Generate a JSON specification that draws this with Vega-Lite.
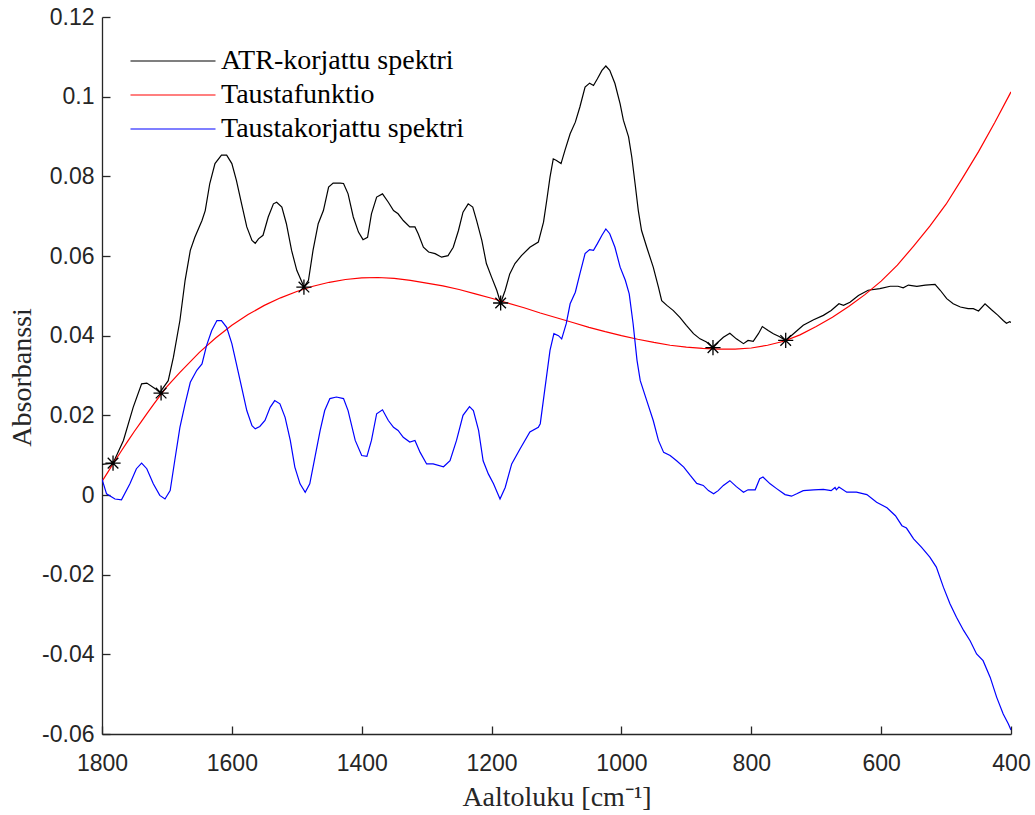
{
  "$schema": "https://vega.github.io/schema/vega-lite/v6.json",
  "width": 909,
  "height": 717,
  "autosize": {"type": "none"},
  "padding": {"left": 102, "top": 17, "right": 24, "bottom": 81},
  "background": "#ffffff",
  "config": {
    "view": {"stroke": null},
    "font": "Liberation Sans"
  },
  "datasets": {
    "spektrit": [
      {"sarja": "ATR-korjattu spektri", "aaltoluku": 1800, "absorbanssi": 0.0077}, {"sarja": "ATR-korjattu spektri", "aaltoluku": 1783, "absorbanssi": 0.0080}, {"sarja": "ATR-korjattu spektri", "aaltoluku": 1767, "absorbanssi": 0.0137},
      {"sarja": "ATR-korjattu spektri", "aaltoluku": 1752, "absorbanssi": 0.0220}, {"sarja": "ATR-korjattu spektri", "aaltoluku": 1739, "absorbanssi": 0.0279}, {"sarja": "ATR-korjattu spektri", "aaltoluku": 1731, "absorbanssi": 0.0281},
      {"sarja": "ATR-korjattu spektri", "aaltoluku": 1718, "absorbanssi": 0.0267}, {"sarja": "ATR-korjattu spektri", "aaltoluku": 1711, "absorbanssi": 0.0257}, {"sarja": "ATR-korjattu spektri", "aaltoluku": 1698, "absorbanssi": 0.0287},
      {"sarja": "ATR-korjattu spektri", "aaltoluku": 1690, "absorbanssi": 0.0346}, {"sarja": "ATR-korjattu spektri", "aaltoluku": 1680, "absorbanssi": 0.0438}, {"sarja": "ATR-korjattu spektri", "aaltoluku": 1672, "absorbanssi": 0.0539},
      {"sarja": "ATR-korjattu spektri", "aaltoluku": 1664, "absorbanssi": 0.0614}, {"sarja": "ATR-korjattu spektri", "aaltoluku": 1657, "absorbanssi": 0.0647}, {"sarja": "ATR-korjattu spektri", "aaltoluku": 1646, "absorbanssi": 0.0689},
      {"sarja": "ATR-korjattu spektri", "aaltoluku": 1641, "absorbanssi": 0.0714}, {"sarja": "ATR-korjattu spektri", "aaltoluku": 1634, "absorbanssi": 0.0782}, {"sarja": "ATR-korjattu spektri", "aaltoluku": 1626, "absorbanssi": 0.0832},
      {"sarja": "ATR-korjattu spektri", "aaltoluku": 1616, "absorbanssi": 0.0853}, {"sarja": "ATR-korjattu spektri", "aaltoluku": 1608, "absorbanssi": 0.0853}, {"sarja": "ATR-korjattu spektri", "aaltoluku": 1600, "absorbanssi": 0.0832},
      {"sarja": "ATR-korjattu spektri", "aaltoluku": 1593, "absorbanssi": 0.0790}, {"sarja": "ATR-korjattu spektri", "aaltoluku": 1585, "absorbanssi": 0.0731}, {"sarja": "ATR-korjattu spektri", "aaltoluku": 1577, "absorbanssi": 0.0673},
      {"sarja": "ATR-korjattu spektri", "aaltoluku": 1569, "absorbanssi": 0.0639}, {"sarja": "ATR-korjattu spektri", "aaltoluku": 1564, "absorbanssi": 0.0632}, {"sarja": "ATR-korjattu spektri", "aaltoluku": 1559, "absorbanssi": 0.0643},
      {"sarja": "ATR-korjattu spektri", "aaltoluku": 1552, "absorbanssi": 0.0652}, {"sarja": "ATR-korjattu spektri", "aaltoluku": 1544, "absorbanssi": 0.0698}, {"sarja": "ATR-korjattu spektri", "aaltoluku": 1536, "absorbanssi": 0.0731},
      {"sarja": "ATR-korjattu spektri", "aaltoluku": 1531, "absorbanssi": 0.0735}, {"sarja": "ATR-korjattu spektri", "aaltoluku": 1523, "absorbanssi": 0.0723}, {"sarja": "ATR-korjattu spektri", "aaltoluku": 1516, "absorbanssi": 0.0681},
      {"sarja": "ATR-korjattu spektri", "aaltoluku": 1508, "absorbanssi": 0.0614}, {"sarja": "ATR-korjattu spektri", "aaltoluku": 1500, "absorbanssi": 0.0564}, {"sarja": "ATR-korjattu spektri", "aaltoluku": 1492, "absorbanssi": 0.0534},
      {"sarja": "ATR-korjattu spektri", "aaltoluku": 1489, "absorbanssi": 0.0522}, {"sarja": "ATR-korjattu spektri", "aaltoluku": 1482, "absorbanssi": 0.0539}, {"sarja": "ATR-korjattu spektri", "aaltoluku": 1475, "absorbanssi": 0.0614},
      {"sarja": "ATR-korjattu spektri", "aaltoluku": 1467, "absorbanssi": 0.0681}, {"sarja": "ATR-korjattu spektri", "aaltoluku": 1459, "absorbanssi": 0.0714}, {"sarja": "ATR-korjattu spektri", "aaltoluku": 1451, "absorbanssi": 0.0773},
      {"sarja": "ATR-korjattu spektri", "aaltoluku": 1444, "absorbanssi": 0.0783}, {"sarja": "ATR-korjattu spektri", "aaltoluku": 1433, "absorbanssi": 0.0783}, {"sarja": "ATR-korjattu spektri", "aaltoluku": 1428, "absorbanssi": 0.0782},
      {"sarja": "ATR-korjattu spektri", "aaltoluku": 1421, "absorbanssi": 0.0756}, {"sarja": "ATR-korjattu spektri", "aaltoluku": 1413, "absorbanssi": 0.0698}, {"sarja": "ATR-korjattu spektri", "aaltoluku": 1405, "absorbanssi": 0.0660},
      {"sarja": "ATR-korjattu spektri", "aaltoluku": 1398, "absorbanssi": 0.0641}, {"sarja": "ATR-korjattu spektri", "aaltoluku": 1391, "absorbanssi": 0.0647}, {"sarja": "ATR-korjattu spektri", "aaltoluku": 1385, "absorbanssi": 0.0706},
      {"sarja": "ATR-korjattu spektri", "aaltoluku": 1377, "absorbanssi": 0.0748}, {"sarja": "ATR-korjattu spektri", "aaltoluku": 1368, "absorbanssi": 0.0756}, {"sarja": "ATR-korjattu spektri", "aaltoluku": 1359, "absorbanssi": 0.0735},
      {"sarja": "ATR-korjattu spektri", "aaltoluku": 1351, "absorbanssi": 0.0714}, {"sarja": "ATR-korjattu spektri", "aaltoluku": 1344, "absorbanssi": 0.0706}, {"sarja": "ATR-korjattu spektri", "aaltoluku": 1336, "absorbanssi": 0.0689},
      {"sarja": "ATR-korjattu spektri", "aaltoluku": 1326, "absorbanssi": 0.0673}, {"sarja": "ATR-korjattu spektri", "aaltoluku": 1318, "absorbanssi": 0.0673}, {"sarja": "ATR-korjattu spektri", "aaltoluku": 1313, "absorbanssi": 0.0656},
      {"sarja": "ATR-korjattu spektri", "aaltoluku": 1305, "absorbanssi": 0.0622}, {"sarja": "ATR-korjattu spektri", "aaltoluku": 1297, "absorbanssi": 0.0610}, {"sarja": "ATR-korjattu spektri", "aaltoluku": 1287, "absorbanssi": 0.0606},
      {"sarja": "ATR-korjattu spektri", "aaltoluku": 1277, "absorbanssi": 0.0597}, {"sarja": "ATR-korjattu spektri", "aaltoluku": 1267, "absorbanssi": 0.0601}, {"sarja": "ATR-korjattu spektri", "aaltoluku": 1259, "absorbanssi": 0.0622},
      {"sarja": "ATR-korjattu spektri", "aaltoluku": 1251, "absorbanssi": 0.0664}, {"sarja": "ATR-korjattu spektri", "aaltoluku": 1244, "absorbanssi": 0.0710}, {"sarja": "ATR-korjattu spektri", "aaltoluku": 1236, "absorbanssi": 0.0731},
      {"sarja": "ATR-korjattu spektri", "aaltoluku": 1229, "absorbanssi": 0.0723}, {"sarja": "ATR-korjattu spektri", "aaltoluku": 1223, "absorbanssi": 0.0689}, {"sarja": "ATR-korjattu spektri", "aaltoluku": 1215, "absorbanssi": 0.0639},
      {"sarja": "ATR-korjattu spektri", "aaltoluku": 1208, "absorbanssi": 0.0581}, {"sarja": "ATR-korjattu spektri", "aaltoluku": 1200, "absorbanssi": 0.0547}, {"sarja": "ATR-korjattu spektri", "aaltoluku": 1192, "absorbanssi": 0.0514},
      {"sarja": "ATR-korjattu spektri", "aaltoluku": 1186, "absorbanssi": 0.0482}, {"sarja": "ATR-korjattu spektri", "aaltoluku": 1179, "absorbanssi": 0.0514}, {"sarja": "ATR-korjattu spektri", "aaltoluku": 1172, "absorbanssi": 0.0555},
      {"sarja": "ATR-korjattu spektri", "aaltoluku": 1164, "absorbanssi": 0.0581}, {"sarja": "ATR-korjattu spektri", "aaltoluku": 1154, "absorbanssi": 0.0601}, {"sarja": "ATR-korjattu spektri", "aaltoluku": 1141, "absorbanssi": 0.0622},
      {"sarja": "ATR-korjattu spektri", "aaltoluku": 1128, "absorbanssi": 0.0635}, {"sarja": "ATR-korjattu spektri", "aaltoluku": 1120, "absorbanssi": 0.0685}, {"sarja": "ATR-korjattu spektri", "aaltoluku": 1115, "absorbanssi": 0.0740},
      {"sarja": "ATR-korjattu spektri", "aaltoluku": 1110, "absorbanssi": 0.0798}, {"sarja": "ATR-korjattu spektri", "aaltoluku": 1105, "absorbanssi": 0.0844}, {"sarja": "ATR-korjattu spektri", "aaltoluku": 1100, "absorbanssi": 0.0840},
      {"sarja": "ATR-korjattu spektri", "aaltoluku": 1093, "absorbanssi": 0.0832}, {"sarja": "ATR-korjattu spektri", "aaltoluku": 1087, "absorbanssi": 0.0865}, {"sarja": "ATR-korjattu spektri", "aaltoluku": 1079, "absorbanssi": 0.0907},
      {"sarja": "ATR-korjattu spektri", "aaltoluku": 1071, "absorbanssi": 0.0936}, {"sarja": "ATR-korjattu spektri", "aaltoluku": 1064, "absorbanssi": 0.0974}, {"sarja": "ATR-korjattu spektri", "aaltoluku": 1056, "absorbanssi": 0.1024},
      {"sarja": "ATR-korjattu spektri", "aaltoluku": 1049, "absorbanssi": 0.1034}, {"sarja": "ATR-korjattu spektri", "aaltoluku": 1043, "absorbanssi": 0.1028}, {"sarja": "ATR-korjattu spektri", "aaltoluku": 1037, "absorbanssi": 0.1045},
      {"sarja": "ATR-korjattu spektri", "aaltoluku": 1030, "absorbanssi": 0.1066}, {"sarja": "ATR-korjattu spektri", "aaltoluku": 1024, "absorbanssi": 0.1077}, {"sarja": "ATR-korjattu spektri", "aaltoluku": 1018, "absorbanssi": 0.1066},
      {"sarja": "ATR-korjattu spektri", "aaltoluku": 1010, "absorbanssi": 0.1033}, {"sarja": "ATR-korjattu spektri", "aaltoluku": 1002, "absorbanssi": 0.0982}, {"sarja": "ATR-korjattu spektri", "aaltoluku": 997, "absorbanssi": 0.0941},
      {"sarja": "ATR-korjattu spektri", "aaltoluku": 989, "absorbanssi": 0.0899}, {"sarja": "ATR-korjattu spektri", "aaltoluku": 984, "absorbanssi": 0.0848}, {"sarja": "ATR-korjattu spektri", "aaltoluku": 979, "absorbanssi": 0.0782},
      {"sarja": "ATR-korjattu spektri", "aaltoluku": 974, "absorbanssi": 0.0714}, {"sarja": "ATR-korjattu spektri", "aaltoluku": 969, "absorbanssi": 0.0664}, {"sarja": "ATR-korjattu spektri", "aaltoluku": 961, "absorbanssi": 0.0622},
      {"sarja": "ATR-korjattu spektri", "aaltoluku": 951, "absorbanssi": 0.0572}, {"sarja": "ATR-korjattu spektri", "aaltoluku": 943, "absorbanssi": 0.0522}, {"sarja": "ATR-korjattu spektri", "aaltoluku": 938, "absorbanssi": 0.0488},
      {"sarja": "ATR-korjattu spektri", "aaltoluku": 930, "absorbanssi": 0.0476}, {"sarja": "ATR-korjattu spektri", "aaltoluku": 920, "absorbanssi": 0.0463}, {"sarja": "ATR-korjattu spektri", "aaltoluku": 910, "absorbanssi": 0.0446},
      {"sarja": "ATR-korjattu spektri", "aaltoluku": 900, "absorbanssi": 0.0426}, {"sarja": "ATR-korjattu spektri", "aaltoluku": 889, "absorbanssi": 0.0405}, {"sarja": "ATR-korjattu spektri", "aaltoluku": 879, "absorbanssi": 0.0392},
      {"sarja": "ATR-korjattu spektri", "aaltoluku": 869, "absorbanssi": 0.0384}, {"sarja": "ATR-korjattu spektri", "aaltoluku": 860, "absorbanssi": 0.0371}, {"sarja": "ATR-korjattu spektri", "aaltoluku": 851, "absorbanssi": 0.0384},
      {"sarja": "ATR-korjattu spektri", "aaltoluku": 843, "absorbanssi": 0.0396}, {"sarja": "ATR-korjattu spektri", "aaltoluku": 833, "absorbanssi": 0.0406}, {"sarja": "ATR-korjattu spektri", "aaltoluku": 823, "absorbanssi": 0.0392},
      {"sarja": "ATR-korjattu spektri", "aaltoluku": 812, "absorbanssi": 0.0380}, {"sarja": "ATR-korjattu spektri", "aaltoluku": 805, "absorbanssi": 0.0388}, {"sarja": "ATR-korjattu spektri", "aaltoluku": 797, "absorbanssi": 0.0386},
      {"sarja": "ATR-korjattu spektri", "aaltoluku": 789, "absorbanssi": 0.0405}, {"sarja": "ATR-korjattu spektri", "aaltoluku": 783, "absorbanssi": 0.0423}, {"sarja": "ATR-korjattu spektri", "aaltoluku": 774, "absorbanssi": 0.0413},
      {"sarja": "ATR-korjattu spektri", "aaltoluku": 766, "absorbanssi": 0.0405}, {"sarja": "ATR-korjattu spektri", "aaltoluku": 757, "absorbanssi": 0.0398}, {"sarja": "ATR-korjattu spektri", "aaltoluku": 747, "absorbanssi": 0.0388},
      {"sarja": "ATR-korjattu spektri", "aaltoluku": 735, "absorbanssi": 0.0405}, {"sarja": "ATR-korjattu spektri", "aaltoluku": 720, "absorbanssi": 0.0426}, {"sarja": "ATR-korjattu spektri", "aaltoluku": 704, "absorbanssi": 0.0440},
      {"sarja": "ATR-korjattu spektri", "aaltoluku": 689, "absorbanssi": 0.0451}, {"sarja": "ATR-korjattu spektri", "aaltoluku": 677, "absorbanssi": 0.0463}, {"sarja": "ATR-korjattu spektri", "aaltoluku": 665, "absorbanssi": 0.0480},
      {"sarja": "ATR-korjattu spektri", "aaltoluku": 658, "absorbanssi": 0.0476}, {"sarja": "ATR-korjattu spektri", "aaltoluku": 648, "absorbanssi": 0.0484}, {"sarja": "ATR-korjattu spektri", "aaltoluku": 635, "absorbanssi": 0.0501},
      {"sarja": "ATR-korjattu spektri", "aaltoluku": 620, "absorbanssi": 0.0514}, {"sarja": "ATR-korjattu spektri", "aaltoluku": 602, "absorbanssi": 0.0518}, {"sarja": "ATR-korjattu spektri", "aaltoluku": 586, "absorbanssi": 0.0524},
      {"sarja": "ATR-korjattu spektri", "aaltoluku": 574, "absorbanssi": 0.0524}, {"sarja": "ATR-korjattu spektri", "aaltoluku": 566, "absorbanssi": 0.0520}, {"sarja": "ATR-korjattu spektri", "aaltoluku": 558, "absorbanssi": 0.0527},
      {"sarja": "ATR-korjattu spektri", "aaltoluku": 545, "absorbanssi": 0.0524}, {"sarja": "ATR-korjattu spektri", "aaltoluku": 532, "absorbanssi": 0.0527}, {"sarja": "ATR-korjattu spektri", "aaltoluku": 517, "absorbanssi": 0.0529},
      {"sarja": "ATR-korjattu spektri", "aaltoluku": 509, "absorbanssi": 0.0514}, {"sarja": "ATR-korjattu spektri", "aaltoluku": 499, "absorbanssi": 0.0493}, {"sarja": "ATR-korjattu spektri", "aaltoluku": 489, "absorbanssi": 0.0480},
      {"sarja": "ATR-korjattu spektri", "aaltoluku": 478, "absorbanssi": 0.0472}, {"sarja": "ATR-korjattu spektri", "aaltoluku": 466, "absorbanssi": 0.0468}, {"sarja": "ATR-korjattu spektri", "aaltoluku": 458, "absorbanssi": 0.0468},
      {"sarja": "ATR-korjattu spektri", "aaltoluku": 450, "absorbanssi": 0.0462}, {"sarja": "ATR-korjattu spektri", "aaltoluku": 440, "absorbanssi": 0.0480}, {"sarja": "ATR-korjattu spektri", "aaltoluku": 430, "absorbanssi": 0.0465},
      {"sarja": "ATR-korjattu spektri", "aaltoluku": 420, "absorbanssi": 0.0451}, {"sarja": "ATR-korjattu spektri", "aaltoluku": 412, "absorbanssi": 0.0438}, {"sarja": "ATR-korjattu spektri", "aaltoluku": 407, "absorbanssi": 0.0431},
      {"sarja": "ATR-korjattu spektri", "aaltoluku": 402, "absorbanssi": 0.0435}, {"sarja": "ATR-korjattu spektri", "aaltoluku": 400, "absorbanssi": 0.0433},

      {"sarja": "Taustafunktio", "aaltoluku": 1800, "absorbanssi": 0.0034}, {"sarja": "Taustafunktio", "aaltoluku": 1790, "absorbanssi": 0.0060}, {"sarja": "Taustafunktio", "aaltoluku": 1780, "absorbanssi": 0.0086},
      {"sarja": "Taustafunktio", "aaltoluku": 1770, "absorbanssi": 0.0111}, {"sarja": "Taustafunktio", "aaltoluku": 1760, "absorbanssi": 0.0136}, {"sarja": "Taustafunktio", "aaltoluku": 1750, "absorbanssi": 0.0160},
      {"sarja": "Taustafunktio", "aaltoluku": 1740, "absorbanssi": 0.0183}, {"sarja": "Taustafunktio", "aaltoluku": 1730, "absorbanssi": 0.0206}, {"sarja": "Taustafunktio", "aaltoluku": 1720, "absorbanssi": 0.0229},
      {"sarja": "Taustafunktio", "aaltoluku": 1710, "absorbanssi": 0.0251}, {"sarja": "Taustafunktio", "aaltoluku": 1700, "absorbanssi": 0.0272}, {"sarja": "Taustafunktio", "aaltoluku": 1680, "absorbanssi": 0.0308},
      {"sarja": "Taustafunktio", "aaltoluku": 1650, "absorbanssi": 0.0358}, {"sarja": "Taustafunktio", "aaltoluku": 1625, "absorbanssi": 0.0394}, {"sarja": "Taustafunktio", "aaltoluku": 1600, "absorbanssi": 0.0426},
      {"sarja": "Taustafunktio", "aaltoluku": 1575, "absorbanssi": 0.0453}, {"sarja": "Taustafunktio", "aaltoluku": 1550, "absorbanssi": 0.0476}, {"sarja": "Taustafunktio", "aaltoluku": 1525, "absorbanssi": 0.0495},
      {"sarja": "Taustafunktio", "aaltoluku": 1500, "absorbanssi": 0.0511}, {"sarja": "Taustafunktio", "aaltoluku": 1475, "absorbanssi": 0.0524}, {"sarja": "Taustafunktio", "aaltoluku": 1450, "absorbanssi": 0.0534},
      {"sarja": "Taustafunktio", "aaltoluku": 1425, "absorbanssi": 0.0541}, {"sarja": "Taustafunktio", "aaltoluku": 1400, "absorbanssi": 0.0545}, {"sarja": "Taustafunktio", "aaltoluku": 1375, "absorbanssi": 0.0546},
      {"sarja": "Taustafunktio", "aaltoluku": 1350, "absorbanssi": 0.0544}, {"sarja": "Taustafunktio", "aaltoluku": 1325, "absorbanssi": 0.0539}, {"sarja": "Taustafunktio", "aaltoluku": 1300, "absorbanssi": 0.0532},
      {"sarja": "Taustafunktio", "aaltoluku": 1275, "absorbanssi": 0.0525}, {"sarja": "Taustafunktio", "aaltoluku": 1250, "absorbanssi": 0.0516}, {"sarja": "Taustafunktio", "aaltoluku": 1225, "absorbanssi": 0.0505},
      {"sarja": "Taustafunktio", "aaltoluku": 1200, "absorbanssi": 0.0494}, {"sarja": "Taustafunktio", "aaltoluku": 1175, "absorbanssi": 0.0482}, {"sarja": "Taustafunktio", "aaltoluku": 1150, "absorbanssi": 0.0470},
      {"sarja": "Taustafunktio", "aaltoluku": 1125, "absorbanssi": 0.0457}, {"sarja": "Taustafunktio", "aaltoluku": 1100, "absorbanssi": 0.0445}, {"sarja": "Taustafunktio", "aaltoluku": 1075, "absorbanssi": 0.0433},
      {"sarja": "Taustafunktio", "aaltoluku": 1050, "absorbanssi": 0.0421}, {"sarja": "Taustafunktio", "aaltoluku": 1025, "absorbanssi": 0.0410}, {"sarja": "Taustafunktio", "aaltoluku": 1000, "absorbanssi": 0.0400},
      {"sarja": "Taustafunktio", "aaltoluku": 975, "absorbanssi": 0.0391}, {"sarja": "Taustafunktio", "aaltoluku": 950, "absorbanssi": 0.0383}, {"sarja": "Taustafunktio", "aaltoluku": 925, "absorbanssi": 0.0376},
      {"sarja": "Taustafunktio", "aaltoluku": 900, "absorbanssi": 0.0371}, {"sarja": "Taustafunktio", "aaltoluku": 875, "absorbanssi": 0.0368}, {"sarja": "Taustafunktio", "aaltoluku": 850, "absorbanssi": 0.0366},
      {"sarja": "Taustafunktio", "aaltoluku": 825, "absorbanssi": 0.0366}, {"sarja": "Taustafunktio", "aaltoluku": 800, "absorbanssi": 0.0369}, {"sarja": "Taustafunktio", "aaltoluku": 775, "absorbanssi": 0.0376},
      {"sarja": "Taustafunktio", "aaltoluku": 750, "absorbanssi": 0.0386}, {"sarja": "Taustafunktio", "aaltoluku": 725, "absorbanssi": 0.0402}, {"sarja": "Taustafunktio", "aaltoluku": 700, "absorbanssi": 0.0423},
      {"sarja": "Taustafunktio", "aaltoluku": 675, "absorbanssi": 0.0446}, {"sarja": "Taustafunktio", "aaltoluku": 650, "absorbanssi": 0.0473}, {"sarja": "Taustafunktio", "aaltoluku": 625, "absorbanssi": 0.0503},
      {"sarja": "Taustafunktio", "aaltoluku": 600, "absorbanssi": 0.0537}, {"sarja": "Taustafunktio", "aaltoluku": 575, "absorbanssi": 0.0577}, {"sarja": "Taustafunktio", "aaltoluku": 550, "absorbanssi": 0.0625},
      {"sarja": "Taustafunktio", "aaltoluku": 525, "absorbanssi": 0.0675}, {"sarja": "Taustafunktio", "aaltoluku": 500, "absorbanssi": 0.0730}, {"sarja": "Taustafunktio", "aaltoluku": 475, "absorbanssi": 0.0795},
      {"sarja": "Taustafunktio", "aaltoluku": 450, "absorbanssi": 0.0862}, {"sarja": "Taustafunktio", "aaltoluku": 425, "absorbanssi": 0.0935}, {"sarja": "Taustafunktio", "aaltoluku": 400, "absorbanssi": 0.1012},

      {"sarja": "Taustakorjattu spektri", "aaltoluku": 1800, "absorbanssi": 0.0040}, {"sarja": "Taustakorjattu spektri", "aaltoluku": 1793, "absorbanssi": 0.0003}, {"sarja": "Taustakorjattu spektri", "aaltoluku": 1780, "absorbanssi": -0.0010},
      {"sarja": "Taustakorjattu spektri", "aaltoluku": 1770, "absorbanssi": -0.0012}, {"sarja": "Taustakorjattu spektri", "aaltoluku": 1757, "absorbanssi": 0.0028}, {"sarja": "Taustakorjattu spektri", "aaltoluku": 1747, "absorbanssi": 0.0066},
      {"sarja": "Taustakorjattu spektri", "aaltoluku": 1739, "absorbanssi": 0.0080}, {"sarja": "Taustakorjattu spektri", "aaltoluku": 1731, "absorbanssi": 0.0066}, {"sarja": "Taustakorjattu spektri", "aaltoluku": 1721, "absorbanssi": 0.0028},
      {"sarja": "Taustakorjattu spektri", "aaltoluku": 1711, "absorbanssi": -0.0001}, {"sarja": "Taustakorjattu spektri", "aaltoluku": 1703, "absorbanssi": -0.0010}, {"sarja": "Taustakorjattu spektri", "aaltoluku": 1695, "absorbanssi": 0.0011},
      {"sarja": "Taustakorjattu spektri", "aaltoluku": 1688, "absorbanssi": 0.0086}, {"sarja": "Taustakorjattu spektri", "aaltoluku": 1680, "absorbanssi": 0.0170}, {"sarja": "Taustakorjattu spektri", "aaltoluku": 1672, "absorbanssi": 0.0229},
      {"sarja": "Taustakorjattu spektri", "aaltoluku": 1664, "absorbanssi": 0.0283}, {"sarja": "Taustakorjattu spektri", "aaltoluku": 1654, "absorbanssi": 0.0313}, {"sarja": "Taustakorjattu spektri", "aaltoluku": 1646, "absorbanssi": 0.0329},
      {"sarja": "Taustakorjattu spektri", "aaltoluku": 1639, "absorbanssi": 0.0375}, {"sarja": "Taustakorjattu spektri", "aaltoluku": 1631, "absorbanssi": 0.0413}, {"sarja": "Taustakorjattu spektri", "aaltoluku": 1623, "absorbanssi": 0.0438},
      {"sarja": "Taustakorjattu spektri", "aaltoluku": 1616, "absorbanssi": 0.0438}, {"sarja": "Taustakorjattu spektri", "aaltoluku": 1608, "absorbanssi": 0.0421}, {"sarja": "Taustakorjattu spektri", "aaltoluku": 1600, "absorbanssi": 0.0380},
      {"sarja": "Taustakorjattu spektri", "aaltoluku": 1593, "absorbanssi": 0.0329}, {"sarja": "Taustakorjattu spektri", "aaltoluku": 1585, "absorbanssi": 0.0271}, {"sarja": "Taustakorjattu spektri", "aaltoluku": 1577, "absorbanssi": 0.0212},
      {"sarja": "Taustakorjattu spektri", "aaltoluku": 1569, "absorbanssi": 0.0174}, {"sarja": "Taustakorjattu spektri", "aaltoluku": 1564, "absorbanssi": 0.0166}, {"sarja": "Taustakorjattu spektri", "aaltoluku": 1557, "absorbanssi": 0.0172},
      {"sarja": "Taustakorjattu spektri", "aaltoluku": 1549, "absorbanssi": 0.0187}, {"sarja": "Taustakorjattu spektri", "aaltoluku": 1541, "absorbanssi": 0.0220}, {"sarja": "Taustakorjattu spektri", "aaltoluku": 1534, "absorbanssi": 0.0237},
      {"sarja": "Taustakorjattu spektri", "aaltoluku": 1526, "absorbanssi": 0.0229}, {"sarja": "Taustakorjattu spektri", "aaltoluku": 1518, "absorbanssi": 0.0195}, {"sarja": "Taustakorjattu spektri", "aaltoluku": 1510, "absorbanssi": 0.0137},
      {"sarja": "Taustakorjattu spektri", "aaltoluku": 1503, "absorbanssi": 0.0070}, {"sarja": "Taustakorjattu spektri", "aaltoluku": 1495, "absorbanssi": 0.0028}, {"sarja": "Taustakorjattu spektri", "aaltoluku": 1487, "absorbanssi": 0.0007},
      {"sarja": "Taustakorjattu spektri", "aaltoluku": 1480, "absorbanssi": 0.0028}, {"sarja": "Taustakorjattu spektri", "aaltoluku": 1472, "absorbanssi": 0.0095}, {"sarja": "Taustakorjattu spektri", "aaltoluku": 1464, "absorbanssi": 0.0162},
      {"sarja": "Taustakorjattu spektri", "aaltoluku": 1457, "absorbanssi": 0.0212}, {"sarja": "Taustakorjattu spektri", "aaltoluku": 1449, "absorbanssi": 0.0242}, {"sarja": "Taustakorjattu spektri", "aaltoluku": 1439, "absorbanssi": 0.0246},
      {"sarja": "Taustakorjattu spektri", "aaltoluku": 1428, "absorbanssi": 0.0242}, {"sarja": "Taustakorjattu spektri", "aaltoluku": 1421, "absorbanssi": 0.0212}, {"sarja": "Taustakorjattu spektri", "aaltoluku": 1410, "absorbanssi": 0.0137},
      {"sarja": "Taustakorjattu spektri", "aaltoluku": 1400, "absorbanssi": 0.0099}, {"sarja": "Taustakorjattu spektri", "aaltoluku": 1392, "absorbanssi": 0.0097}, {"sarja": "Taustakorjattu spektri", "aaltoluku": 1385, "absorbanssi": 0.0137},
      {"sarja": "Taustakorjattu spektri", "aaltoluku": 1377, "absorbanssi": 0.0204}, {"sarja": "Taustakorjattu spektri", "aaltoluku": 1368, "absorbanssi": 0.0214}, {"sarja": "Taustakorjattu spektri", "aaltoluku": 1359, "absorbanssi": 0.0187},
      {"sarja": "Taustakorjattu spektri", "aaltoluku": 1351, "absorbanssi": 0.0170}, {"sarja": "Taustakorjattu spektri", "aaltoluku": 1344, "absorbanssi": 0.0162}, {"sarja": "Taustakorjattu spektri", "aaltoluku": 1336, "absorbanssi": 0.0145},
      {"sarja": "Taustakorjattu spektri", "aaltoluku": 1326, "absorbanssi": 0.0133}, {"sarja": "Taustakorjattu spektri", "aaltoluku": 1318, "absorbanssi": 0.0137}, {"sarja": "Taustakorjattu spektri", "aaltoluku": 1310, "absorbanssi": 0.0107},
      {"sarja": "Taustakorjattu spektri", "aaltoluku": 1300, "absorbanssi": 0.0078}, {"sarja": "Taustakorjattu spektri", "aaltoluku": 1290, "absorbanssi": 0.0078}, {"sarja": "Taustakorjattu spektri", "aaltoluku": 1274, "absorbanssi": 0.0071},
      {"sarja": "Taustakorjattu spektri", "aaltoluku": 1264, "absorbanssi": 0.0086}, {"sarja": "Taustakorjattu spektri", "aaltoluku": 1254, "absorbanssi": 0.0137}, {"sarja": "Taustakorjattu spektri", "aaltoluku": 1244, "absorbanssi": 0.0200},
      {"sarja": "Taustakorjattu spektri", "aaltoluku": 1234, "absorbanssi": 0.0222}, {"sarja": "Taustakorjattu spektri", "aaltoluku": 1228, "absorbanssi": 0.0212}, {"sarja": "Taustakorjattu spektri", "aaltoluku": 1220, "absorbanssi": 0.0162},
      {"sarja": "Taustakorjattu spektri", "aaltoluku": 1213, "absorbanssi": 0.0086}, {"sarja": "Taustakorjattu spektri", "aaltoluku": 1205, "absorbanssi": 0.0053}, {"sarja": "Taustakorjattu spektri", "aaltoluku": 1197, "absorbanssi": 0.0028},
      {"sarja": "Taustakorjattu spektri", "aaltoluku": 1187, "absorbanssi": -0.0010}, {"sarja": "Taustakorjattu spektri", "aaltoluku": 1179, "absorbanssi": 0.0019}, {"sarja": "Taustakorjattu spektri", "aaltoluku": 1169, "absorbanssi": 0.0078},
      {"sarja": "Taustakorjattu spektri", "aaltoluku": 1156, "absorbanssi": 0.0116}, {"sarja": "Taustakorjattu spektri", "aaltoluku": 1141, "absorbanssi": 0.0158}, {"sarja": "Taustakorjattu spektri", "aaltoluku": 1128, "absorbanssi": 0.0170},
      {"sarja": "Taustakorjattu spektri", "aaltoluku": 1125, "absorbanssi": 0.0179}, {"sarja": "Taustakorjattu spektri", "aaltoluku": 1118, "absorbanssi": 0.0265}, {"sarja": "Taustakorjattu spektri", "aaltoluku": 1110, "absorbanssi": 0.0363},
      {"sarja": "Taustakorjattu spektri", "aaltoluku": 1104, "absorbanssi": 0.0405}, {"sarja": "Taustakorjattu spektri", "aaltoluku": 1097, "absorbanssi": 0.0400}, {"sarja": "Taustakorjattu spektri", "aaltoluku": 1092, "absorbanssi": 0.0392},
      {"sarja": "Taustakorjattu spektri", "aaltoluku": 1085, "absorbanssi": 0.0430}, {"sarja": "Taustakorjattu spektri", "aaltoluku": 1079, "absorbanssi": 0.0480}, {"sarja": "Taustakorjattu spektri", "aaltoluku": 1071, "absorbanssi": 0.0509},
      {"sarja": "Taustakorjattu spektri", "aaltoluku": 1064, "absorbanssi": 0.0555}, {"sarja": "Taustakorjattu spektri", "aaltoluku": 1056, "absorbanssi": 0.0606}, {"sarja": "Taustakorjattu spektri", "aaltoluku": 1049, "absorbanssi": 0.0616},
      {"sarja": "Taustakorjattu spektri", "aaltoluku": 1043, "absorbanssi": 0.0614}, {"sarja": "Taustakorjattu spektri", "aaltoluku": 1037, "absorbanssi": 0.0631}, {"sarja": "Taustakorjattu spektri", "aaltoluku": 1030, "absorbanssi": 0.0652},
      {"sarja": "Taustakorjattu spektri", "aaltoluku": 1024, "absorbanssi": 0.0668}, {"sarja": "Taustakorjattu spektri", "aaltoluku": 1018, "absorbanssi": 0.0656}, {"sarja": "Taustakorjattu spektri", "aaltoluku": 1010, "absorbanssi": 0.0622},
      {"sarja": "Taustakorjattu spektri", "aaltoluku": 1002, "absorbanssi": 0.0572}, {"sarja": "Taustakorjattu spektri", "aaltoluku": 994, "absorbanssi": 0.0539}, {"sarja": "Taustakorjattu spektri", "aaltoluku": 988, "absorbanssi": 0.0505},
      {"sarja": "Taustakorjattu spektri", "aaltoluku": 982, "absorbanssi": 0.0430}, {"sarja": "Taustakorjattu spektri", "aaltoluku": 976, "absorbanssi": 0.0338}, {"sarja": "Taustakorjattu spektri", "aaltoluku": 971, "absorbanssi": 0.0287},
      {"sarja": "Taustakorjattu spektri", "aaltoluku": 961, "absorbanssi": 0.0237}, {"sarja": "Taustakorjattu spektri", "aaltoluku": 951, "absorbanssi": 0.0187}, {"sarja": "Taustakorjattu spektri", "aaltoluku": 943, "absorbanssi": 0.0137},
      {"sarja": "Taustakorjattu spektri", "aaltoluku": 935, "absorbanssi": 0.0107}, {"sarja": "Taustakorjattu spektri", "aaltoluku": 925, "absorbanssi": 0.0099}, {"sarja": "Taustakorjattu spektri", "aaltoluku": 915, "absorbanssi": 0.0086},
      {"sarja": "Taustakorjattu spektri", "aaltoluku": 904, "absorbanssi": 0.0070}, {"sarja": "Taustakorjattu spektri", "aaltoluku": 894, "absorbanssi": 0.0049}, {"sarja": "Taustakorjattu spektri", "aaltoluku": 884, "absorbanssi": 0.0029},
      {"sarja": "Taustakorjattu spektri", "aaltoluku": 874, "absorbanssi": 0.0024}, {"sarja": "Taustakorjattu spektri", "aaltoluku": 866, "absorbanssi": 0.0011}, {"sarja": "Taustakorjattu spektri", "aaltoluku": 858, "absorbanssi": 0.0003},
      {"sarja": "Taustakorjattu spektri", "aaltoluku": 851, "absorbanssi": 0.0011}, {"sarja": "Taustakorjattu spektri", "aaltoluku": 843, "absorbanssi": 0.0024}, {"sarja": "Taustakorjattu spektri", "aaltoluku": 833, "absorbanssi": 0.0036},
      {"sarja": "Taustakorjattu spektri", "aaltoluku": 823, "absorbanssi": 0.0021}, {"sarja": "Taustakorjattu spektri", "aaltoluku": 812, "absorbanssi": 0.0007}, {"sarja": "Taustakorjattu spektri", "aaltoluku": 805, "absorbanssi": 0.0013},
      {"sarja": "Taustakorjattu spektri", "aaltoluku": 794, "absorbanssi": 0.0013}, {"sarja": "Taustakorjattu spektri", "aaltoluku": 787, "absorbanssi": 0.0041}, {"sarja": "Taustakorjattu spektri", "aaltoluku": 782, "absorbanssi": 0.0045},
      {"sarja": "Taustakorjattu spektri", "aaltoluku": 771, "absorbanssi": 0.0028}, {"sarja": "Taustakorjattu spektri", "aaltoluku": 761, "absorbanssi": 0.0016}, {"sarja": "Taustakorjattu spektri", "aaltoluku": 748, "absorbanssi": 0.0001},
      {"sarja": "Taustakorjattu spektri", "aaltoluku": 738, "absorbanssi": -0.0003}, {"sarja": "Taustakorjattu spektri", "aaltoluku": 730, "absorbanssi": 0.0003}, {"sarja": "Taustakorjattu spektri", "aaltoluku": 720, "absorbanssi": 0.0011},
      {"sarja": "Taustakorjattu spektri", "aaltoluku": 704, "absorbanssi": 0.0013}, {"sarja": "Taustakorjattu spektri", "aaltoluku": 689, "absorbanssi": 0.0014}, {"sarja": "Taustakorjattu spektri", "aaltoluku": 677, "absorbanssi": 0.0011},
      {"sarja": "Taustakorjattu spektri", "aaltoluku": 671, "absorbanssi": 0.0019}, {"sarja": "Taustakorjattu spektri", "aaltoluku": 669, "absorbanssi": 0.0013}, {"sarja": "Taustakorjattu spektri", "aaltoluku": 665, "absorbanssi": 0.0020},
      {"sarja": "Taustakorjattu spektri", "aaltoluku": 653, "absorbanssi": 0.0007}, {"sarja": "Taustakorjattu spektri", "aaltoluku": 638, "absorbanssi": 0.0007}, {"sarja": "Taustakorjattu spektri", "aaltoluku": 622, "absorbanssi": 0.0001},
      {"sarja": "Taustakorjattu spektri", "aaltoluku": 607, "absorbanssi": -0.0018}, {"sarja": "Taustakorjattu spektri", "aaltoluku": 591, "absorbanssi": -0.0032}, {"sarja": "Taustakorjattu spektri", "aaltoluku": 578, "absorbanssi": -0.0052},
      {"sarja": "Taustakorjattu spektri", "aaltoluku": 568, "absorbanssi": -0.0077}, {"sarja": "Taustakorjattu spektri", "aaltoluku": 561, "absorbanssi": -0.0083}, {"sarja": "Taustakorjattu spektri", "aaltoluku": 550, "absorbanssi": -0.0110},
      {"sarja": "Taustakorjattu spektri", "aaltoluku": 538, "absorbanssi": -0.0131}, {"sarja": "Taustakorjattu spektri", "aaltoluku": 525, "absorbanssi": -0.0156}, {"sarja": "Taustakorjattu spektri", "aaltoluku": 515, "absorbanssi": -0.0181},
      {"sarja": "Taustakorjattu spektri", "aaltoluku": 504, "absorbanssi": -0.0232}, {"sarja": "Taustakorjattu spektri", "aaltoluku": 494, "absorbanssi": -0.0273}, {"sarja": "Taustakorjattu spektri", "aaltoluku": 484, "absorbanssi": -0.0307},
      {"sarja": "Taustakorjattu spektri", "aaltoluku": 473, "absorbanssi": -0.0340}, {"sarja": "Taustakorjattu spektri", "aaltoluku": 463, "absorbanssi": -0.0366}, {"sarja": "Taustakorjattu spektri", "aaltoluku": 453, "absorbanssi": -0.0399},
      {"sarja": "Taustakorjattu spektri", "aaltoluku": 443, "absorbanssi": -0.0416}, {"sarja": "Taustakorjattu spektri", "aaltoluku": 432, "absorbanssi": -0.0458}, {"sarja": "Taustakorjattu spektri", "aaltoluku": 422, "absorbanssi": -0.0508},
      {"sarja": "Taustakorjattu spektri", "aaltoluku": 412, "absorbanssi": -0.0550}, {"sarja": "Taustakorjattu spektri", "aaltoluku": 404, "absorbanssi": -0.0575}, {"sarja": "Taustakorjattu spektri", "aaltoluku": 400, "absorbanssi": -0.0590}
    ],
    "pisteet": [
      {"aaltoluku": 1783, "absorbanssi": 0.0080},
      {"aaltoluku": 1709, "absorbanssi": 0.0256},
      {"aaltoluku": 1489, "absorbanssi": 0.0522},
      {"aaltoluku": 1186, "absorbanssi": 0.0482},
      {"aaltoluku": 859, "absorbanssi": 0.0370},
      {"aaltoluku": 747, "absorbanssi": 0.0388}
    ]
  },
  "encoding": {
    "x": {
      "field": "aaltoluku",
      "type": "quantitative",
      "scale": {"domain": [400, 1800], "reverse": true, "nice": false, "zero": false},
      "axis": {
        "title": "Aaltoluku [cm⁻¹]",
        "values": [1800, 1600, 1400, 1200, 1000, 800, 600, 400],
        "labelExpr": "'' + datum.value",
        "grid": false,
        "labelFlush": false,
        "labelOverlap": false,
        "labelFont": "Liberation Sans",
        "labelFontSize": 23,
        "labelColor": "#262626",
        "labelPadding": 26,
        "tickSize": -8,
        "tickColor": "#262626",
        "tickWidth": 1.3,
        "domainColor": "#262626",
        "domainWidth": 1.3,
        "titleFont": "Liberation Serif",
        "titleFontSize": 28,
        "titleFontWeight": "normal",
        "titleColor": "#262626",
        "titleX": 454.5,
        "titleY": 71,
        "titleBaseline": "alphabetic"
      }
    },
    "y": {
      "field": "absorbanssi",
      "type": "quantitative",
      "scale": {"domain": [-0.06, 0.12], "nice": false, "zero": false},
      "axis": {
        "title": "Absorbanssi",
        "values": [-0.06, -0.04, -0.02, 0, 0.02, 0.04, 0.06, 0.08, 0.1, 0.12],
        "labelExpr": "'' + datum.value",
        "grid": false,
        "labelFlush": false,
        "labelOverlap": false,
        "labelFont": "Liberation Sans",
        "labelFontSize": 23,
        "labelColor": "#262626",
        "labelPadding": 16,
        "tickSize": -8,
        "tickColor": "#262626",
        "tickWidth": 1.3,
        "domainColor": "#262626",
        "domainWidth": 1.3,
        "titleFont": "Liberation Serif",
        "titleFontSize": 28,
        "titleFontWeight": "normal",
        "titleColor": "#262626",
        "titleX": -72,
        "titleY": 360,
        "titleBaseline": "alphabetic"
      }
    }
  },
  "layer": [
    {
      "data": {"name": "spektrit"},
      "mark": {"type": "line", "strokeWidth": 1.2, "clip": true},
      "encoding": {
        "detail": {"field": "sarja"},
        "color": {
          "field": "sarja",
          "type": "nominal",
          "sort": ["ATR-korjattu spektri", "Taustafunktio", "Taustakorjattu spektri"],
          "scale": {
            "domain": ["ATR-korjattu spektri", "Taustafunktio", "Taustakorjattu spektri"],
            "range": ["#000000", "#ff0000", "#0000ff"]
          },
          "legend": {
            "title": null,
            "orient": "none",
            "legendX": 57,
            "legendY": 30,
            "padding": 0,
            "symbolType": "M-4.1,0L4.1,0",
            "symbolSize": 430,
            "symbolStrokeWidth": 1.2,
            "labelFont": "Liberation Serif",
            "labelFontSize": 28,
            "labelColor": "#000000",
            "labelOffset": 34,
            "labelLimit": 0,
            "rowPadding": 6,
            "encode": {
              "symbols": {
                "update": {
                  "stroke": {"scale": "color", "field": "value"},
                  "fill": {"value": "transparent"}
                }
              }
            }
          }
        }
      }
    },
    {
      "data": {"name": "pisteet"},
      "mark": {
        "type": "point",
        "shape": "M-1,0L1,0M0,-1L0,1M-0.7,-0.7L0.7,0.7M-0.7,0.7L0.7,-0.7",
        "size": 230,
        "filled": false,
        "color": "#000000",
        "strokeWidth": 1.3,
        "opacity": 1
      }
    }
  ]
}
